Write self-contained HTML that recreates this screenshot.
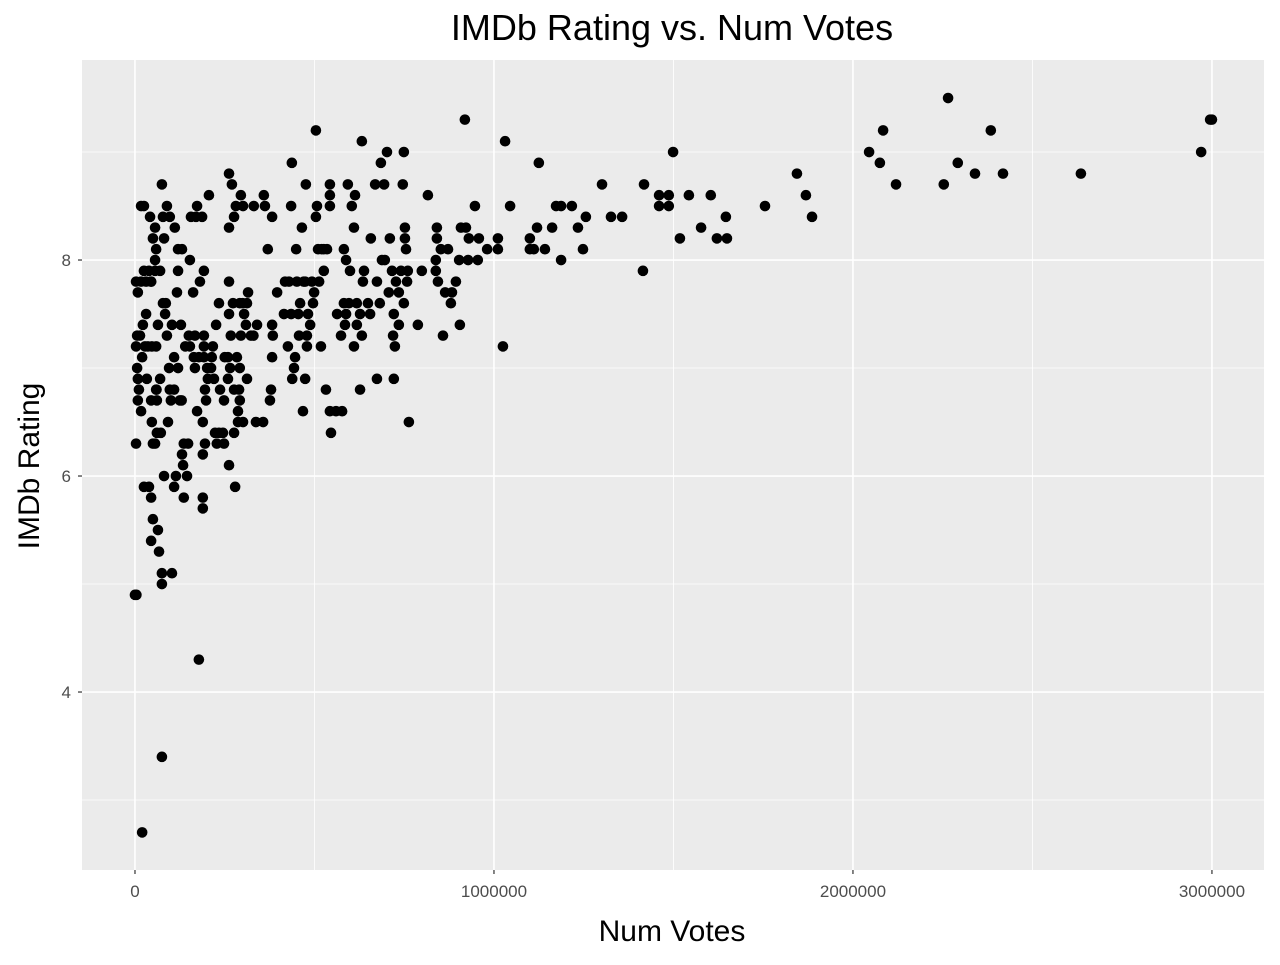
<!DOCTYPE html>
<html><head><meta charset="utf-8"><style>
body{margin:0;background:#fff;}
svg text{font-family:"Liberation Sans",sans-serif;}
</style></head><body>
<svg id="chart" width="1280" height="960" xmlns="http://www.w3.org/2000/svg">
<rect width="1280" height="960" fill="#fff"/>
<text x="672" y="40" font-size="36" text-anchor="middle" fill="#000">IMDb Rating vs. Num Votes</text>
<rect x="82" y="60" width="1182" height="810" fill="#EBEBEB"/>
<g id="grid"></g>
<g id="points"></g>
<g id="axes"></g>
<text x="672" y="941" font-size="30" text-anchor="middle" fill="#000">Num Votes</text>
<text transform="translate(39,466) rotate(-90)" font-size="30" text-anchor="middle" fill="#000">IMDb Rating</text>
</svg>
<script>
// votes in thousands
const votes = [3000,2995,2970,2635,2418,2340,2384,2292,2265,2253,2120,2084,2075,2045,1886,1869,1844,1755,1649,1621,1646,1604,1577,1543,1518,1499,1487,1487,1460,1460,1418,1415,1357,1326,1301,1256,1248,1234,1217,1187,1173,1187,1162,1142,1125,1120,1111,1100,1100,1045,1031,1025,1011,1011,981,958,947,955,930,928,919,922,908,903,905,894,883,880,872,864,
816,799,841,844,838,841,852,858,838,788,760,758,749,755,752,752,749,746,763,735,741,735,727,721,724,716,719,721,710,702,707,696,694,688,685,682,674,674,669,657,655,649,638,635,632,627,632,627,618,618,610,613,610,604,599,593,596,588,585,582,574,582,588,577,563,560,546,543,532,543,543,543,526,526,518,513,510,504,504,507,499,496,493,488,482,476,479,479,474,474,468,465,460,457,451,449,446,443,438,437,435,435,429,426,415,418,396,384,382,382,379,376,382,370,359,362,357,337,340,331,323,315,312,312,309,304,301,301,295,295,292,292,292,290,287,287,284,281,276,276,273,279,276,270,267,265,262,262,262,259,262,259,262,248,248,245,237,234,234,228,223,226,220,217,214,212,206,203,201,198,195,195,192,192,192,192,189,189,189,189,187,181,178,178,173,173,170,167,167,164,162,156,153,153,150,148,145,136,134,136,131,131,128,125,120,120,117,120,114,111,109,109,109,103,103,100,97,97,95,92,89,89,86,84,81,81,78,78,75,75,75,75,72,70,67,64,64,61,61,59,59,59,56,56,56,56,50,50,50,47,47,45,45,45,45,42,39,39,36,33,31,31,28,25,25,25,22,20,17,17,17,14,20,11,8,8,8,6,6,3,3,3,0,4,520,535,470,455,330,300,250,140,130,60,70,45];
const ratings = [9.3,9.3,9.0,8.8,8.8,8.8,9.2,8.9,9.5,8.7,8.7,9.2,8.9,9.0,8.4,8.6,8.8,8.5,8.2,8.2,8.4,8.6,8.3,8.6,8.2,9.0,8.5,8.6,8.5,8.6,8.7,7.9,8.4,8.4,8.7,8.4,8.1,8.3,8.5,8.5,8.5,8.0,8.3,8.1,8.9,8.3,8.1,8.2,8.1,8.5,9.1,7.2,8.1,8.2,8.1,8.2,8.5,8.0,8.2,8.0,9.3,8.3,8.3,8.0,7.4,7.8,7.7,7.6,8.1,7.7,
8.6,7.9,8.2,7.8,8.0,8.3,8.1,7.3,7.9,7.4,7.9,7.8,7.6,8.1,8.3,8.2,9.0,8.7,6.5,7.4,7.9,7.7,7.8,7.5,7.2,7.9,7.3,6.9,8.2,9.0,7.7,8.0,8.7,8.0,8.9,7.6,6.9,7.8,8.7,8.2,7.5,7.6,7.9,7.8,9.1,6.8,7.3,7.5,7.6,7.4,7.2,8.6,8.3,8.5,7.9,8.7,7.6,7.5,7.4,7.6,7.3,8.1,8.0,6.6,7.5,6.6,6.4,6.6,6.8,8.5,8.6,8.7,7.9,8.1,7.2,7.8,8.1,9.2,8.4,8.5,7.7,7.6,7.8,7.4,7.5,8.7,7.3,7.2,7.8,6.9,6.6,8.3,7.6,7.3,7.8,8.1,7.1,7.0,6.9,8.9,8.5,7.5,7.8,7.2,7.5,7.8,7.7,7.3,7.4,7.1,6.8,6.7,8.4,8.1,8.6,8.5,6.5,6.5,7.4,8.5,7.3,7.7,6.9,7.6,7.4,7.5,8.5,6.5,8.6,7.3,6.7,7.0,7.6,6.8,6.5,6.6,7.1,8.5,8.4,6.8,7.6,5.9,6.4,8.7,7.3,7.0,8.8,8.3,6.1,6.9,7.8,7.1,7.5,6.3,6.7,6.4,6.8,7.6,6.4,6.3,6.4,7.4,6.9,7.2,7.1,7.0,8.6,6.9,7.0,6.7,6.3,6.8,7.9,7.1,7.3,7.2,5.8,5.7,6.5,6.2,8.4,7.8,7.1,4.3,6.6,8.5,8.4,7.0,7.3,7.1,7.7,8.4,7.2,8.0,7.3,6.3,6.0,6.3,6.1,5.8,8.1,6.2,7.4,6.7,8.1,7.9,7.7,7.0,6.0,8.3,7.1,6.8,5.9,7.4,5.1,6.7,8.4,6.8,7.0,6.5,7.3,8.5,7.6,7.5,6.0,8.2,8.4,7.6,8.7,5.1,5.0,3.4,6.4,6.9,5.3,7.4,5.5,6.4,6.7,6.8,8.1,7.2,6.3,8.3,8.0,7.9,6.3,8.2,5.6,7.2,6.5,6.7,7.8,5.4,5.8,8.4,5.9,7.9,7.2,6.9,7.5,7.8,7.2,5.9,8.5,7.9,7.4,7.1,8.5,6.6,7.8,7.3,2.7,6.8,6.7,6.9,7.7,7.0,7.3,7.8,7.2,6.3,4.9,4.9,8.1,8.1,7.8,7.5,7.3,7.6,7.1,7.2,6.7,6.8,7.9,7.8];
const xTicks = [0,1000,2000,3000];
const xTickLabels = ["0","1000000","2000000","3000000"];
const yTicks = [4,6,8];
const yTickLabels = ["4","6","8"];

const NS="http://www.w3.org/2000/svg";
const X0=82,X1=1264,Y0=60,Y1=870;
const xMin=-147.6,xMax=3145,yMin=2.352,yMax=9.852;
const sx=v=>X0+(v-xMin)/(xMax-xMin)*(X1-X0);
const sy=v=>Y1-(v-yMin)/(yMax-yMin)*(Y1-Y0);
function mk(tag,attrs,parent){const e=document.createElementNS(NS,tag);for(const k in attrs)e.setAttribute(k,attrs[k]);parent.appendChild(e);return e;}
const grid=document.getElementById('grid'),axes=document.getElementById('axes'),pts=document.getElementById('points');
for(let i=0;i<xTicks.length-1;i++){const v=(xTicks[i]+xTicks[i+1])/2;const l=mk('line',{x1:sx(v),x2:sx(v),y1:Y0,y2:Y1,stroke:'#fff','stroke-width':0.8},grid);

}
for(const v of [3,5,7,9]){const l=mk('line',{x1:X0,x2:X1,y1:sy(v),y2:sy(v),stroke:'#fff','stroke-width':0.8},grid);

}
xTicks.forEach((v,i)=>{const x=sx(v);
const l=mk('line',{x1:x,x2:x,y1:Y0,y2:Y1,stroke:'#fff','stroke-width':1.6},grid);


const t=mk('line',{x1:x,x2:x,y1:Y1,y2:Y1+4,stroke:'#333','stroke-width':1.2},axes);


const tx=mk('text',{x:x,y:Y1+27,'font-size':17,'text-anchor':'middle',fill:'#4D4D4D'},axes);tx.textContent=xTickLabels[i];

});
yTicks.forEach((v,i)=>{const y=sy(v);
const l=mk('line',{x1:X0,x2:X1,y1:y,y2:y,stroke:'#fff','stroke-width':1.6},grid);


const t=mk('line',{x1:X0-4,x2:X0,y1:y,y2:y,stroke:'#333','stroke-width':1.2},axes);


const tx=mk('text',{x:X0-11,y:y+6,'font-size':17,'text-anchor':'end',fill:'#4D4D4D'},axes);tx.textContent=yTickLabels[i];

});
for(let i=0;i<votes.length;i++){const c=mk('circle',{cx:sx(votes[i]),cy:sy(ratings[i]),r:5.3,fill:'#000'},pts);

}
</script>
</body></html>
